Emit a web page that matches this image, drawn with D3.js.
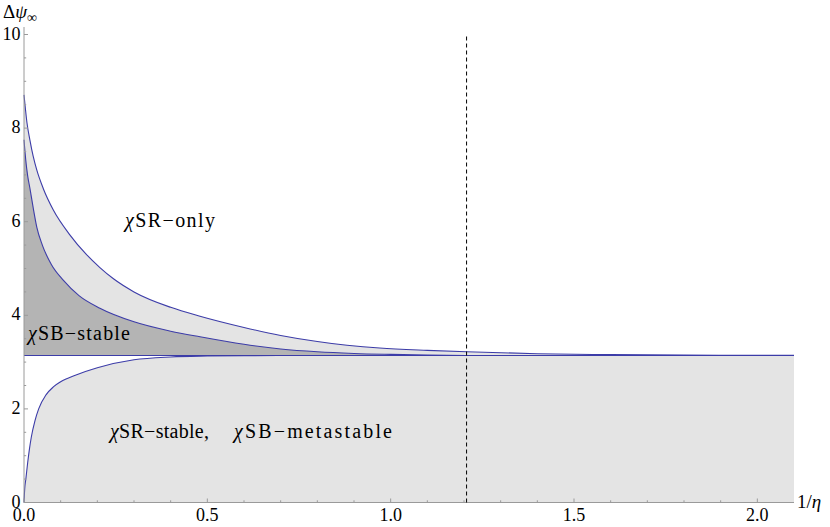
<!DOCTYPE html>
<html><head><meta charset="utf-8">
<script src="https://cdn.jsdelivr.net/npm/d3@7"></script>
<style>body{margin:0;background:#fff}svg{display:block}svg text{font-family:'Liberation Serif','DejaVu Serif','Times New Roman',serif}</style>
</head><body>
<svg id="c" width="830" height="527"></svg>
<script>
const PI = Math.PI;
// upper boundary (χSR-only / light band top)
const topX = [0, 0.004, 0.008, 0.016, 0.025, 0.035, 0.053, 0.08, 0.125, 0.17, 0.207, 0.244, 0.3, 0.4, 0.48, 0.6, 0.7, 0.8, 0.97, 1.1, 1.207, 1.4, 1.6, 1.8, 2.0, 2.1];
const topY = [8.71, 8.4, 8.12, 7.75, 7.4, 7.1, 6.7, 6.25, 5.72, 5.3, 5.02, 4.78, 4.5, 4.17, 3.98, 3.74, 3.57, 3.44, 3.3, 3.25, 3.22, 3.18, 3.16, 3.15, 3.145, 3.143];
// middle boundary (χSB-stable top)
const midX = [0, 0.005, 0.01, 0.016, 0.025, 0.035, 0.05, 0.075, 0.107, 0.15, 0.207, 0.3, 0.4, 0.48, 0.6, 0.7, 0.8, 0.9, 1.0, 1.1, 1.207];
const midY = [7.75, 7.3, 6.98, 6.72, 6.3, 5.88, 5.5, 5.08, 4.75, 4.42, 4.15, 3.86, 3.66, 3.54, 3.38, 3.28, 3.22, 3.185, 3.165, 3.15, 3.1416];
// lower boundary (χSR-stable region top)
const lowX = [0, 0.002, 0.005, 0.01, 0.015, 0.02, 0.03, 0.04, 0.06, 0.08, 0.1, 0.14, 0.2, 0.3, 0.4, 0.5, 0.6, 0.8, 1.0, 1.5, 2.1];
const lowY = [0, 0.3, 0.5, 0.85, 1.15, 1.4, 1.75, 2.0, 2.3, 2.47, 2.58, 2.72, 2.88, 3.05, 3.11, 3.13, 3.138, 3.141, 3.1416, 3.1416, 3.1416];
const dashX = 1.207;
const xMajor = [0, 0.5, 1.0, 1.5, 2.0];
const xMajorLabels = ["0.0", "0.5", "1.0", "1.5", "2.0"];
const yMajor = [0, 2, 4, 6, 8, 10];
const yMajorLabels = ["0", "2", "4", "6", "8", "10"];
const regionLabels = ["χSR−only", "χSB−stable", "χSR−stable,", "χSB−metastable"];

const svg = d3.select("#c");
const x = d3.scaleLinear().domain([0, 2.1]).range([24, 794]);
const y = d3.scaleLinear().domain([0, 10]).range([502.5, 34.5]);
const blue = "#3c3ca8", light = "#e4e4e4", dark = "#b4b4b4", axisC = "#9a9a9a";

const pts = (xs, ys) => xs.map((v, i) => [v, ys[i]]);
const topPts = pts(topX, topY), midPts = pts(midX, midY), lowPts = pts(lowX, lowY);
const curve = d3.curveMonotoneX;
const areaPi = d3.area().x(d => x(d[0])).y0(y(PI)).y1(d => y(d[1])).curve(curve);
const area0 = d3.area().x(d => x(d[0])).y0(y(0)).y1(d => y(d[1])).curve(curve);
const line = d3.line().x(d => x(d[0])).y(d => y(d[1])).curve(curve);

svg.append("path").attr("d", area0(lowPts)).attr("fill", light);
svg.append("path").attr("d", areaPi(topPts)).attr("fill", light);
svg.append("path").attr("d", areaPi(midPts)).attr("fill", dark);

// pi line
svg.append("line").attr("x1", x(0)).attr("x2", x(2.0)).attr("y1", y(PI)).attr("y2", y(PI)).attr("stroke", blue).attr("stroke-width", 1.1);
svg.append("line").attr("x1", x(2.0)).attr("x2", x(2.1)).attr("y1", y(PI)).attr("y2", y(PI)).attr("stroke", "#aaa").attr("stroke-width", 1.1);
[topPts, midPts, lowPts].forEach(p => svg.append("path").attr("d", line(p)).attr("fill", "none").attr("stroke", blue).attr("stroke-width", 1.1));

// axes
svg.append("line").attr("x1", x(0)).attr("x2", x(0)).attr("y1", y(0)).attr("y2", y(10.16)).attr("stroke", axisC);
svg.append("line").attr("x1", x(0)).attr("x2", x(2.1)).attr("y1", y(0)).attr("y2", y(0)).attr("stroke", axisC);
const xMinor = d3.range(1, 21).map(i => i / 10).filter(v => Math.abs(v * 2 - Math.round(v * 2)) > 1e-6);
const yMinor = d3.range(1, 21).map(i => i / 2).filter(v => v % 2 !== 0);
xMajor.forEach(v => svg.append("line").attr("x1", x(v)).attr("x2", x(v)).attr("y1", y(0)).attr("y2", y(0) - 4).attr("stroke", axisC));
xMinor.forEach(v => svg.append("line").attr("x1", x(v)).attr("x2", x(v)).attr("y1", y(0)).attr("y2", y(0) - 2.2).attr("stroke", axisC));
yMajor.forEach(v => svg.append("line").attr("x1", x(0)).attr("x2", x(0) + 4).attr("y1", y(v)).attr("y2", y(v)).attr("stroke", axisC));
yMinor.forEach(v => svg.append("line").attr("x1", x(0)).attr("x2", x(0) + 2.2).attr("y1", y(v)).attr("y2", y(v)).attr("stroke", axisC));

xMajor.forEach((v, i) => svg.append("text").attr("x", x(v)).attr("y", 521).attr("text-anchor", "middle").attr("font-size", 18).text(xMajorLabels[i]));
yMajor.forEach((v, i) => svg.append("text").attr("x", 20.5).attr("y", y(v) + 5).attr("text-anchor", "end").attr("font-size", 18).text(yMajorLabels[i]));

// dashed line
svg.append("line").attr("x1", x(dashX)).attr("x2", x(dashX)).attr("y1", y(0)).attr("y2", y(10)).attr("stroke", "#000").attr("stroke-width", 1).attr("stroke-dasharray", "4,3");

// axis titles
const yt = svg.append("text").attr("x", 3).attr("y", 18).attr("font-size", 19);
yt.append("tspan").text("Δ");
yt.append("tspan").attr("font-style", "italic").text("ψ");
yt.append("tspan").attr("font-size", 14).attr("dy", 4).text("∞");
const xt = svg.append("text").attr("x", 797).attr("y", 508).attr("font-size", 19);
xt.append("tspan").text("1/");
xt.append("tspan").attr("font-style", "italic").text("η");

// region labels
function lab(tx, ty, s, w) {
  const t = svg.append("text").attr("x", tx).attr("y", ty).attr("font-size", 20)
    .attr("textLength", w).attr("lengthAdjust", "spacing");
  t.append("tspan").attr("font-style", "italic").text(s[0]);
  t.append("tspan").text(s.slice(1));
}
lab(125, 227, regionLabels[0], 90);
lab(28, 340, regionLabels[1], 102);
lab(110, 438, regionLabels[2], 99);
lab(234, 438, regionLabels[3], 158);
</script>
</body></html>
